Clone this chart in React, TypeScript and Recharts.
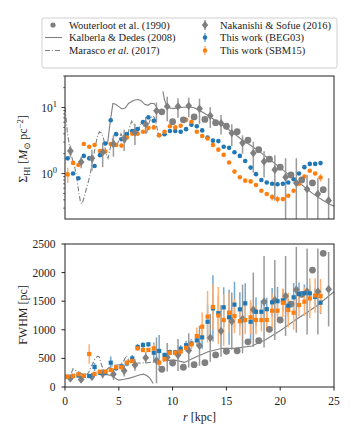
import React from 'react';
import { ComposedChart, Scatter, Line, XAxis, YAxis, ErrorBar } from 'recharts';

// radial bins of this work (kpc)
const rBins = [0.25, 0.75, 1.25, 1.75, 2.25, 2.75, 3.25, 3.75, 4.25, 4.75, 5.25, 5.75, 6.25, 6.75, 7.25, 7.75,
  8.25, 8.75, 9.25, 9.75, 10.25, 10.75, 11.25, 11.75, 12.25, 12.75, 13.25, 13.75, 14.25, 14.75, 15.25, 15.75,
  16.25, 16.75, 17.25, 17.75, 18.25, 18.75, 19.25, 19.75, 20.25, 20.75, 21.25, 21.75, 22.25, 22.75, 23.25, 23.75];

const begSigma = [1.7, 1.0, 0.85, 1.85, 1.7, 1.3, 1.9, 2.85, 6.4, 3.95, 3.3, 3.95, 4.4, 4.7, 6.0, 7.1,
  6.3, 3.8, 3.95, 4.4, 4.4, 4.3, 4.7, 5.5, 5.2, 4.5, 3.5, 3.15, 3.1, 2.55, 2.45, 2.1,
  1.85, 1.55, 1.23, 0.98, 0.8, 0.73, 0.7, 0.69, 0.7, 0.73, 0.82, 1.0, 1.25, 1.4, 1.4, 1.44];
const sbmSigma = [0.97, 1.45, 1.35, 2.8, 2.55, 2.7, 2.2, 2.15, 2.8, 2.7, 2.65, 3.5, 4.0, 4.0, 4.3, 4.9,
  5.0, 3.8, 4.3, 5.2, 5.0, 5.3, 6.5, 6.1, 4.3, 3.7, 3.4, 2.7, 2.3, 1.92, 1.47, 1.07,
  0.88, 0.78, 0.76, 0.67, 0.55, 0.49, 0.44, 0.41, 0.41, 0.46, 0.55, 0.7, 0.9, 1.1, 1.0, 0.87];
const sbmSigmaErr = [0.25, 0, 0, 0, 0, 0, 0, 0, 0, 0, 0, 0, 0, 0, 0, 0,
  0, 0, 0, 0, 0, 0, 0, 0, 0, 0, 0, 0, 0, 0, 0, 0,
  0, 0, 0, 0, 0, 0, 0.05, 0.05, 0, 0, 0, 0, 0, 0, 0, 0.12];

const begFwhm = [180, 195, 200, 195, 192, 350, 250, 250, 425, 330, 362, 414, 500, 700, 734, 746,
  600, 630, 560, 610, 606, 670, 730, 760, 815, 868, 1141, 1375, 1290, 1393, 1220, 1440,
  1358, 1463, 1141, 1316, 1316, 1360, 1480, 1500, 1515, 1420, 1568, 1626, 1640, 1637, 1575, 1474];
const begFwhmErr = [25, 25, 25, 25, 25, 70, 40, 40, 110, 50, 50, 50, 60, 50, 50, 40,
  180, 280, 40, 40, 40, 60, 80, 80, 100, 200, 300, 580, 300, 350, 480, 400,
  300, 350, 330, 250, 200, 200, 250, 250, 200, 200, 250, 200, 150, 150, 150, 200];
const sbmFwhm = [180, 192, 222, 198, 577, 230, 268, 268, 297, 344, 344, 425, 455, 676, 647, 647,
  676, 425, 490, 600, 600, 620, 687, 746, 891, 1054, 1230, 1400, 1250, 1171, 1300, 1241,
  1150, 1171, 1218, 1171, 1171, 1171, 1334, 1334, 1474, 1346, 1299, 1433, 1491, 1550, 1600, 1590];
const sbmFwhmErr = [25, 25, 30, 25, 170, 30, 30, 30, 40, 40, 40, 40, 40, 40, 40, 40,
  80, 60, 50, 50, 50, 60, 70, 80, 150, 250, 450, 400, 500, 450, 350, 300,
  250, 250, 300, 250, 200, 200, 300, 200, 250, 300, 300, 200, 250, 350, 300, 300];

// Nakanishi & Sofue (2016)
const nsR = [0.5, 1.5, 2.5, 3.5, 4.5, 5.5, 6.5, 7.5, 8.5, 9.5, 10.5, 11.5, 12.5, 13.5, 14.5, 15.5,
  16.5, 17.5, 18.5, 19.5, 20.5, 21.5, 22.5, 23.5, 24.5];
const nsSigma = [2.2, 1.5, 1.7, 2.1, 2.8, 3.4, 4.2, 5.6, 8.9, 10.4, 10.4, 10.6, 9.6, 7.5, 5.8, 4.1,
  2.9, 2.04, 1.52, 1.14, 0.88, 0.72, 0.58, 0.49, 0.39];
const nsSigmaErr = [0.45, 0.3, 0.6, 0.85, 1.0, 1.2, 1.5, 1.6, 3.0, 4.2, 3.4, 3.5, 4.0, 2.6, 1.9, 1.5,
  0.9, 1.0, 0.65, 0.75, 0.83, 0.99, 0.37, 0.36, 0.46];
const nsFwhm = [150, 130, 180, 230, 225, 285, 385, 510, 465, 520, 560, 640, 720, 860, 980, 1150,
  1190, 1350, 1490, 1520, 1590, 1700, 1670, 1670, 1710];
const nsFwhmErr = [60, 60, 60, 80, 100, 100, 100, 100, 400, 250, 280, 300, 350, 420, 450, 500,
  600, 650, 800, 700, 700, 750, 750, 750, 650];

// Wouterloot et al. (1990)
const wR = [9, 10, 11, 12, 13, 14, 15, 16, 17, 18, 19, 20, 21, 22, 23, 24];
const wSigma = [8.6, 6.1, 6.5, 7.2, 6.6, 5.9, 5.2, 4.3, 3.2, 2.3, 1.65, 1.25, 0.95, 0.8, 0.72, 0.57];
const wFwhm = [310, 420, 345, 390, 425, 560, 625, 632, 790, 810, 1008, 1171, 1450, 1620, 2045, 2337];

// Kalberla & Dedes (2008), two pieces
const kdSigmaR1 = [3.95, 4.2, 4.45, 4.7, 5.0, 5.3, 5.6, 5.9, 6.2, 6.5, 6.8, 7.1, 7.4, 7.7, 8.0, 8.3, 8.6, 8.75];
const kdSigma1 = [2.8, 6.0, 11.5, 11.2, 10.3, 9.5, 9.8, 11.5, 12.3, 13.0, 13.2, 12.6, 11.2, 10.8, 11.6, 11.4, 9.5, 8.3];
const kdSigmaR2 = [9.1, 9.25, 9.5, 9.8, 10.2, 10.6, 11.0, 11.5, 12.0, 12.5, 13.0, 13.5, 14.0, 14.5, 15.0, 15.5,
  16.0, 16.5, 17.0, 17.5, 18.0, 18.5, 19.0, 19.5, 20.0, 20.5, 21.0, 21.5, 22.0, 22.5, 23.0, 23.5, 24.0, 24.5, 25.0];
const kdSigma2 = [17.5, 13, 10.2, 9.8, 9.7, 9.9, 10.1, 10.2, 9.9, 9.0, 8.1, 7.2, 6.3, 5.5, 4.9, 4.3,
  3.7, 3.2, 2.85, 2.5, 2.2, 1.9, 1.65, 1.42, 1.22, 1.05, 0.9, 0.78, 0.68, 0.58, 0.5, 0.44, 0.39, 0.35, 0.32];
const kdFwhmR1 = [3.4, 3.8, 4.3, 4.7, 5.0, 5.5, 6.0, 6.5, 6.9, 7.3, 7.6, 7.9, 8.2];
const kdFwhm1 = [215, 220, 200, 150, 120, 135, 155, 185, 210, 225, 200, 150, 60];
const kdFwhmR2 = [9.1, 9.5, 10.2, 11.1, 12.1, 13.3, 14.6, 15.8, 17.35, 18.6, 20.1, 21.4, 22.6, 23.5, 25.0];
const kdFwhm2 = [450, 465, 470, 430, 520, 617, 676, 676, 717, 822, 996, 1171, 1316, 1433, 1666];

// Marasco et al. (2017)
const mSigmaR = [0.0, 0.1, 0.2, 0.3, 0.5, 0.7, 0.9, 1.1, 1.3, 1.45, 1.6, 1.8, 2.0, 2.2, 2.4, 2.6, 2.8, 3.0,
  3.2, 3.4, 3.6, 3.8, 4.0, 4.2, 4.4, 4.6, 4.8, 5.0, 5.2, 5.4, 5.6, 5.8, 6.0, 6.2, 6.4, 6.6, 6.8, 7.0,
  7.2, 7.4, 7.6, 7.8, 8.0, 8.2, 8.4, 8.6, 8.7];
const mSigma = [10, 7, 4.5, 3.4, 2.2, 1.6, 1.27, 0.85, 0.5, 0.36, 0.35, 0.45, 0.6, 0.78, 1.1, 1.6, 2.5, 3.6,
  4.3, 4.1, 3.3, 2.0, 1.7, 2.4, 3.3, 3.0, 2.6, 3.2, 4.0, 3.4, 3.0, 3.6, 5.0, 6.2, 5.5, 4.0, 4.5, 5.5,
  6.0, 5.0, 4.2, 5.8, 7.0, 7.5, 6.5, 4.5, 3.8];
const mFwhmR = [0.6, 0.75, 0.9, 1.1, 1.3, 1.6, 1.9, 2.2, 2.5, 2.8, 3.05, 3.2, 3.4, 3.6, 3.8, 4.1, 4.4, 4.7,
  5.0, 5.3, 5.5, 5.7, 5.8, 5.9, 6.1, 6.5, 7.0, 7.5, 8.0, 8.5, 8.8];
const mFwhm = [250, 320, 300, 270, 260, 220, 200, 250, 380, 500, 540, 520, 380, 300, 290, 340, 370, 385,
  390, 420, 470, 550, 520, 470, 430, 415, 420, 425, 430, 440, 440];

const SIG_MIN = 0.205;
const SIG_MAX = 30;

const pts = (rs: number[], vs: number[], es?: number[], floor?: number) =>
  rs.map((r, i) => {
    const e = es ? es[i] : 0;
    const lo = floor !== undefined ? Math.min(e, vs[i] - floor) : e;
    return { r, v: vs[i], e: [lo, e] };
  });

const GREY = '#7f7f7f';
const BLUE = '#1f77b4';
const ORANGE = '#ff7f0e';
const FONT = '"Liberation Serif", "DejaVu Serif", serif';
const INK = '#222';
const txt = { fontFamily: FONT };

const dot = (color: string, rad: number) => (p: any) => <circle cx={p.cx} cy={p.cy} r={rad} fill={color} />;
const square = (color: string, s: number) => (p: any) => (
  <rect x={p.cx - s / 2} y={p.cy - s / 2} width={s} height={s} fill={color} />
);
const diamond = (color: string, s: number) => (p: any) => (
  <polygon points={`${p.cx},${p.cy - s} ${p.cx + s * 0.8},${p.cy} ${p.cx},${p.cy + s} ${p.cx - s * 0.8},${p.cy}`} fill={color} />
);

const logTicks = [0.3, 0.4, 0.5, 0.6, 0.7, 0.8, 0.9, 1, 2, 3, 4, 5, 6, 7, 8, 9, 10, 20, 30];

const LogTick = (props: any) => {
  const { y, payload } = props;
  const v = payload.value;
  const major = v === 1 || v === 10;
  return (
    <g>
      <line x1={65} x2={65 - (major ? 3.5 : 2)} y1={y} y2={y} stroke={INK} strokeWidth={major ? 0.9 : 0.6} />
      {major && (
        <text x={57} y={y + 4} textAnchor="end" style={txt} fontSize={11.5} fill={INK}>
          10<tspan dy={-5} fontSize={8.5}>{v === 10 ? '1' : '0'}</tspan>
        </text>
      )}
    </g>
  );
};

const xTicks = [0, 5, 10, 15, 20, 25];

export default function App() {
  return (
    <div style={{ position: 'absolute', left: 0, top: 0, width: 355, height: 438, background: '#fff', fontFamily: FONT }}>
      <div style={{ position: 'absolute', left: 0, top: 0 }}>
        <ComposedChart width={355} height={230} margin={{ top: 76, right: 21, bottom: 11, left: 0 }}>
          <XAxis type="number" dataKey="r" domain={[0, 25]} ticks={xTicks} allowDataOverflow height={0}
            axisLine={false} tickLine={{ stroke: INK }} tickSize={3.5} tick={() => <g />} />
          <YAxis type="number" dataKey="v" scale="log" domain={[SIG_MIN, SIG_MAX]} allowDataOverflow
            ticks={logTicks} interval={0} width={65} axisLine={false} tickLine={false} tick={<LogTick />} />
          <Line data={pts(kdSigmaR1, kdSigma1)} dataKey="v" stroke={GREY} strokeWidth={1.1} dot={false} isAnimationActive={false} />
          <Line data={pts(kdSigmaR2, kdSigma2)} dataKey="v" stroke={GREY} strokeWidth={1.1} dot={false} isAnimationActive={false} />
          <Line data={pts(mSigmaR, mSigma)} dataKey="v" stroke={GREY} strokeWidth={1.1} strokeDasharray="5 2 1 2" dot={false} isAnimationActive={false} />
          <Scatter data={pts(rBins, begSigma)} dataKey="v" shape={dot(BLUE, 2.3)} isAnimationActive={false} />
          <Scatter data={pts(rBins, sbmSigma, sbmSigmaErr, SIG_MIN)} dataKey="v" shape={dot(ORANGE, 2.3)} isAnimationActive={false}>
            <ErrorBar dataKey="e" direction="y" width={0} stroke="#ffb070" strokeWidth={1.5} />
          </Scatter>
          <Scatter data={pts(wR, wSigma)} dataKey="v" shape={dot(GREY, 3.4)} isAnimationActive={false} />
          <Scatter data={pts(nsR, nsSigma, nsSigmaErr, SIG_MIN)} dataKey="v" shape={diamond(GREY, 4.2)} isAnimationActive={false}>
            <ErrorBar dataKey="e" direction="y" width={0} stroke="#9a9a9a" strokeWidth={1.5} />
          </Scatter>
        </ComposedChart>
      </div>
      <div style={{ position: 'absolute', left: 0, top: 230 }}>
        <ComposedChart width={355} height={208} margin={{ top: 14, right: 21, bottom: 31, left: 0 }}>
          <XAxis type="number" dataKey="r" domain={[0, 25]} ticks={xTicks} allowDataOverflow height={20}
            axisLine={false} tickLine={{ stroke: INK }} tickSize={3.5} tickMargin={6}
            tick={{ fontSize: 11.5, fill: INK, style: txt }} />
          <YAxis type="number" dataKey="v" domain={[0, 2500]} ticks={[0, 500, 1000, 1500, 2000, 2500]} allowDataOverflow
            width={65} axisLine={false} tickLine={{ stroke: INK }} tickSize={3.5} tickMargin={6}
            tick={{ fontSize: 11.5, fill: INK, style: txt }} />
          <Line data={pts(kdFwhmR1, kdFwhm1)} dataKey="v" stroke={GREY} strokeWidth={1.1} dot={false} isAnimationActive={false} />
          <Line data={pts(kdFwhmR2, kdFwhm2)} dataKey="v" stroke={GREY} strokeWidth={1.1} dot={false} isAnimationActive={false} />
          <Line data={pts(mFwhmR, mFwhm)} dataKey="v" stroke={GREY} strokeWidth={1.1} strokeDasharray="5 2 1 2" dot={false} isAnimationActive={false} />
          <Scatter data={pts(wR, wFwhm)} dataKey="v" shape={dot(GREY, 3.4)} isAnimationActive={false} />
          <Scatter data={pts(nsR, nsFwhm, nsFwhmErr, 0)} dataKey="v" shape={diamond(GREY, 4.2)} isAnimationActive={false}>
            <ErrorBar dataKey="e" direction="y" width={0} stroke="#9a9a9a" strokeWidth={1.5} />
          </Scatter>
          <Scatter data={pts(rBins, begFwhm, begFwhmErr, 0)} dataKey="v" shape={square(BLUE, 4.2)} isAnimationActive={false}>
            <ErrorBar dataKey="e" direction="y" width={0} stroke="#6fa8d6" strokeWidth={1.5} />
          </Scatter>
          <Scatter data={pts(rBins, sbmFwhm, sbmFwhmErr, 0)} dataKey="v" shape={square(ORANGE, 4.2)} isAnimationActive={false}>
            <ErrorBar dataKey="e" direction="y" width={0} stroke="#ffb070" strokeWidth={1.5} />
          </Scatter>
        </ComposedChart>
      </div>
      <svg width={355} height={438} style={{ position: 'absolute', left: 0, top: 0, pointerEvents: 'none', fontFamily: FONT }}
        fill={INK}>
        <rect x={65} y={76} width={269} height={143} fill="none" stroke={INK} strokeWidth={1} />
        <rect x={65} y={244} width={269} height={143} fill="none" stroke={INK} strokeWidth={1} />
        <text transform="translate(27,149) rotate(-90)" textAnchor="middle" fontSize={12} style={txt}>
          Σ<tspan dy={3} fontSize={8.5}>HI</tspan>
          <tspan dy={-3}> [</tspan>
          <tspan fontStyle="italic">M</tspan>
          <tspan dy={3} fontSize={8.5}>⊙</tspan>
          <tspan dy={-3}> pc</tspan>
          <tspan dy={-4.5} fontSize={8.5}>−2</tspan>
          <tspan dy={4.5}>]</tspan>
        </text>
        <text transform="translate(27,315) rotate(-90)" textAnchor="middle" fontSize={12} style={txt}>FWHM [pc]</text>
        <text x={199.5} y={421} textAnchor="middle" fontSize={12} style={txt}>
          <tspan fontStyle="italic">r</tspan> [kpc]
        </text>
        <g fontSize={10.5} style={txt}>
          <rect x={42} y={18} width={295} height={50} rx={2} fill="#fff" stroke="#cfcfcf" strokeWidth={1} />
          <circle cx={53} cy={25} r={2.6} fill={GREY} />
          <text x={69} y={28.5}>Wouterloot et al. (1990)</text>
          <line x1={45} x2={62} y1={37.5} y2={37.5} stroke={GREY} strokeWidth={1.1} />
          <text x={69} y={41}>Kalberla &amp; Dedes (2008)</text>
          <line x1={45} x2={62} y1={50.5} y2={50.5} stroke={GREY} strokeWidth={1.1} strokeDasharray="5 2 1 2" />
          <text x={69} y={54}>Marasco <tspan fontStyle="italic">et al.</tspan> (2017)</text>
          <line x1={205} x2={205} y1={20} y2={30} stroke="#9a9a9a" strokeWidth={1.5} />
          <polygon points="205,21 208.2,25 205,29 201.8,25" fill={GREY} />
          <text x={220} y={28.5}>Nakanishi &amp; Sofue (2016)</text>
          <line x1={205} x2={205} y1={33} y2={42} stroke="#6fa8d6" strokeWidth={1.5} />
          <circle cx={205} cy={37.5} r={2.2} fill={BLUE} />
          <text x={220} y={41}>This work (BEG03)</text>
          <line x1={205} x2={205} y1={46} y2={55} stroke="#ffb070" strokeWidth={1.5} />
          <circle cx={205} cy={50.5} r={2.2} fill={ORANGE} />
          <text x={220} y={54}>This work (SBM15)</text>
        </g>
      </svg>
    </div>
  );
}
